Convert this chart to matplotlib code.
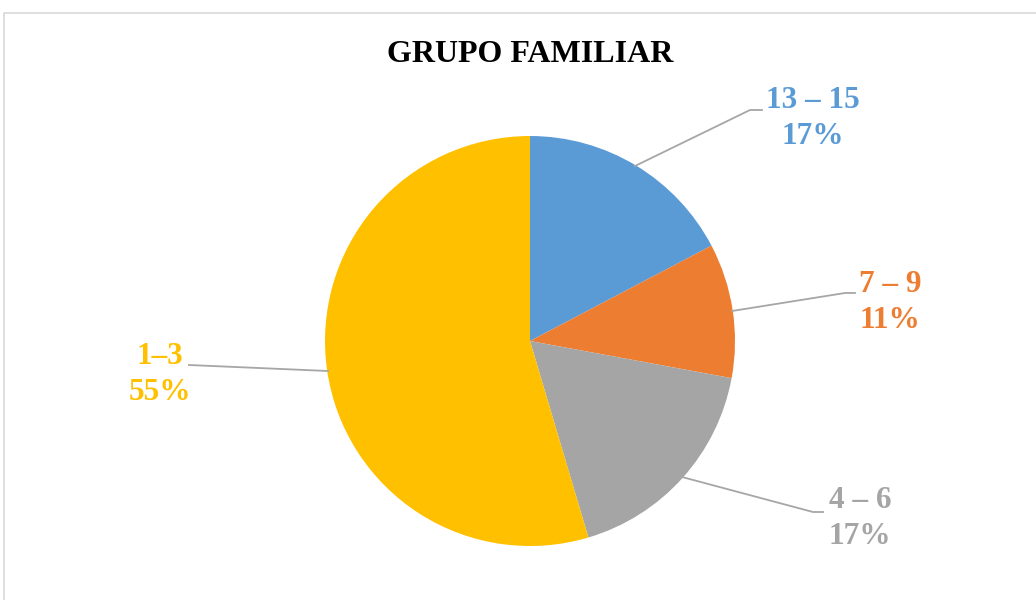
import matplotlib.pyplot as plt
from matplotlib.patches import Rectangle

# datos (porcentaje de cada grupo, en el orden del gráfico, desde arriba y en sentido horario)
grupos = ["13 – 15", "7 – 9", "4 – 6", "1–3"]
valores = [17.3, 10.6, 17.5, 54.6]
etiquetas_pct = ["17%", "11%", "17%", "55%"]
colores = ["#5B9BD5", "#ED7D31", "#A5A5A5", "#FFC000"]

W, H = 1036, 600
plt.rcParams['font.family'] = ['Liberation Serif', 'DejaVu Serif']

fig = plt.figure(figsize=(W / 100, H / 100), dpi=100)
ax = fig.add_axes([0, 0, 1, 1])


def Y(y):
    # coordenada en píxeles desde arriba -> coordenada del eje
    return H - y


ax.pie(valores, colors=colores, startangle=90, counterclock=False,
       center=(530, Y(341)), radius=205, frame=True,
       wedgeprops=dict(linewidth=0))
ax.set_xlim(0, W)
ax.set_ylim(0, H)
ax.set_aspect('equal')
ax.axis('off')

# marco del gráfico
ax.add_patch(Rectangle((4, -10), W + 10, Y(13) + 10, fill=False,
                       edgecolor="#D9D9D9", linewidth=1.2))

ax.text(530, Y(54), "GRUPO FAMILIAR", ha='center', va='center',
        fontsize=23, fontweight='bold', color='black')

# posiciones de etiquetas y líneas guía
pos_texto = [(813, 101), (890, 284), (860, 501), (160, 356)]
lineas = [
    [(635, 166), (750, 110), (762, 110)],
    [(732, 311), (845, 293), (855, 293)],
    [(682, 477), (813, 512), (823, 512)],
    [(328, 371), (189, 365)],
]

for g, p, c, (tx, ty), ln in zip(grupos, etiquetas_pct, colores, pos_texto, lineas):
    ax.text(tx, Y(ty), g, ha='center', va='center', fontsize=22.5,
            fontweight='bold', color=c)
    ax.text(tx, Y(ty + 36), p, ha='center', va='center', fontsize=22.5,
            fontweight='bold', color=c)
    xs = [q[0] for q in ln]
    ys = [Y(q[1]) for q in ln]
    ax.plot(xs, ys, color="#A6A6A6", linewidth=1.3)

fig.savefig("out.png", dpi=100)
